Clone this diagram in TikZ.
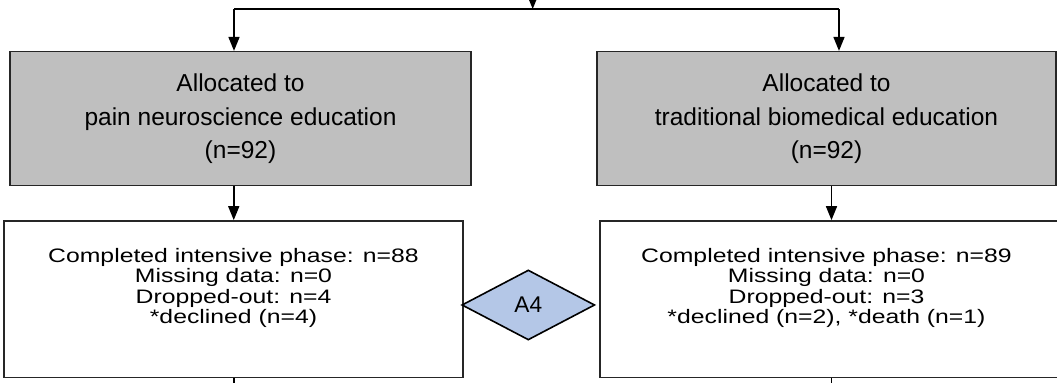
\documentclass[tikz,border=0pt]{standalone}
\usepackage{fontspec}
\setmainfont{Liberation Sans}
\newfontfamily\widefont[FakeStretch=1.27]{Liberation Sans}
\usetikzlibrary{arrows.meta,shapes.geometric}
\definecolor{diablue}{HTML}{B4C7E7}

\begin{document}
\begin{tikzpicture}[x=0.5pt,y=-0.5pt,every node/.style={inner sep=0pt},
  grey/.style={draw=black!85,line width=0.8pt,fill=black!25,minimum height=67pt,align=center,font=\fontsize{12.25}{16.9}\selectfont},
  white/.style={draw=black!85,line width=0.8pt,minimum height=78.35pt},
  txt/.style={align=center,font=\widefont\fontsize{9.75}{10.2}\selectfont},
  arr/.style={line width=0.8pt,-{Triangle[length=7pt,width=5.5pt]}}]
\useasboundingbox (0,0) rectangle (1057,383);

\node[grey,minimum width=230.5pt] (l1) at (240.5,118.7) {Allocated to\\pain neuroscience education\\(n=92)};
\node[grey,minimum width=229.5pt] (r1) at (826.5,118.7) {Allocated to\\traditional biomedical education\\(n=92)};
\node[white,minimum width=229.5pt] (l2) at (233.75,299.3) {};
\node[white,minimum width=231.5pt] (r2) at (831.5,299.3) {};
\node[txt] (l2t) at (233.5,288) {Completed intensive phase: n=88\\Missing data: n=0\\Dropped-out: n=4\\*declined (n=4)};
\node[txt] (r2t) at (826.5,288) {Completed intensive phase: n=89\\Missing data: n=0\\Dropped-out: n=3\\*declined (n=2), *death (n=1)};
\node[diamond,draw=black,line width=0.8pt,fill=diablue,minimum width=66.5pt,minimum height=35pt,font=\fontsize{11.35}{13}\selectfont] (a4) at (528.3,305) {A4};

\coordinate (in) at (532.7,-15);
\coordinate (s) at (532.7,9);
\coordinate (sl) at (234,9);
\coordinate (sr) at (839,9);
\coordinate (ol) at (233.75,395);
\coordinate (or) at (831.5,395);

\draw[arr] (in) -- (s);
\draw[line width=0.8pt] (sl) -- (sr);
\draw[arr] (sl) -- (sl |- l1.north);
\draw[arr] (sr) -- (sr |- r1.north);
\draw[arr] (l2.north |- l1.south) -- (l2.north);
\draw[arr] (r2.north |- r1.south) -- (r2.north);
\draw[line width=0.8pt] (l2.south) -- (ol);
\draw[line width=0.8pt] (r2.south) -- (or);
\end{tikzpicture}
\end{document}
